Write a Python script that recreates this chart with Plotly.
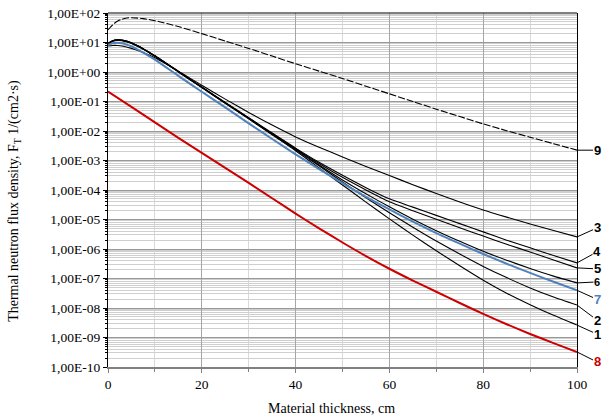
import plotly.graph_objects as go

# Thickness grid (cm) for the transport curves
x_main = [0, 1, 2, 3, 5, 7.5, 10, 15, 20, 25, 30, 35, 40, 45, 50,
          55, 60, 65, 70, 75, 80, 85, 90, 95, 100]
x_red = [0, 5, 10, 15, 20, 25, 30, 35, 40, 45, 50,
         55, 60, 65, 70, 75, 80, 85, 90, 95, 100]
x_dash = [0, 1, 2, 3, 4, 5, 7.5, 10, 15, 20, 25, 30, 35, 40, 45, 50,
          55, 60, 65, 70, 75, 80, 85, 90, 95, 100]

# Flux densities, tabulated as log10(F_T)
lg_1 = [0.95, 1.04, 1.07, 1.06, 0.97, 0.77, 0.53, 0.00, -0.53, -1.06, -1.59, -2.13, -2.67,
        -3.25, -3.83, -4.41, -4.98, -5.53, -6.06, -6.57, -7.06, -7.50, -7.89, -8.25, -8.58]
lg_2 = [0.96, 1.05, 1.08, 1.07, 0.98, 0.78, 0.54, 0.01, -0.52, -1.05, -1.58, -2.11, -2.64,
        -3.18, -3.73, -4.26, -4.77, -5.26, -5.73, -6.17, -6.59, -6.97, -7.32, -7.63, -7.90]
lg_3 = [0.88, 0.90, 0.90, 0.88, 0.80, 0.66, 0.48, 0.03, -0.45, -0.92, -1.37, -1.80, -2.20,
        -2.55, -2.88, -3.20, -3.51, -3.82, -4.12, -4.41, -4.68, -4.92, -5.15, -5.37, -5.59]
lg_4 = [0.97, 1.06, 1.09, 1.08, 0.99, 0.79, 0.55, 0.02, -0.51, -1.03, -1.55, -2.07, -2.58,
        -3.06, -3.50, -3.92, -4.30, -4.58, -4.86, -5.14, -5.42, -5.70, -5.96, -6.22, -6.47]
lg_5 = [0.97, 1.06, 1.09, 1.08, 0.99, 0.79, 0.55, 0.02, -0.51, -1.04, -1.56, -2.08, -2.60,
        -3.10, -3.57, -4.00, -4.40, -4.70, -4.99, -5.28, -5.56, -5.84, -6.10, -6.37, -6.64]
lg_6 = [0.96, 1.05, 1.08, 1.07, 0.98, 0.78, 0.54, 0.01, -0.52, -1.05, -1.57, -2.10, -2.62,
        -3.15, -3.66, -4.13, -4.57, -4.99, -5.38, -5.74, -6.08, -6.38, -6.66, -6.92, -7.15]
lg_7 = [0.92, 0.97, 0.99, 0.97, 0.87, 0.66, 0.42, -0.13, -0.67, -1.20, -1.74, -2.27, -2.79,
        -3.29, -3.77, -4.23, -4.66, -5.07, -5.46, -5.82, -6.17, -6.50, -6.81, -7.11, -7.40]
lg_8 = [-0.66, -1.18, -1.71, -2.23, -2.74, -3.25, -3.76, -4.28, -4.80, -5.30, -5.78,
        -6.24, -6.67, -7.07, -7.45, -7.83, -8.20, -8.55, -8.88, -9.19, -9.49]
lg_9 = [1.43, 1.60, 1.72, 1.79, 1.83, 1.84, 1.81, 1.74, 1.54, 1.30, 1.05, 0.80, 0.54, 0.28,
        0.03, -0.22, -0.48, -0.74, -1.00, -1.26, -1.51, -1.76, -1.99, -2.21, -2.43, -2.65]

y_tick_exp = list(range(-10, 3))
y_tick_text = ["1,00E-10", "1,00E-09", "1,00E-08", "1,00E-07", "1,00E-06", "1,00E-05",
               "1,00E-04", "1,00E-03", "1,00E-02", "1,00E-01", "1,00E+00", "1,00E+01",
               "1,00E+02"]

BLACK = "#000000"
BLUE = "#4f81bd"
RED = "#cc0000"

# (label, x, log10 values, colour, width, dash, label dy in px, label size)
series = [
    ("1", x_main, lg_1, BLACK, 1.1, "solid", 9, 13),
    ("2", x_main, lg_2, BLACK, 1.1, "solid", 15, 13),
    ("3", x_main, lg_3, BLACK, 1.1, "solid", -9, 13),
    ("4", x_main, lg_4, BLACK, 1.1, "solid", -11, 13),
    ("5", x_main, lg_5, BLACK, 1.1, "solid", 1, 13),
    ("6", x_main, lg_6, BLACK, 1.1, "solid", -1, 11),
    ("7", x_main, lg_7, BLUE, 2.0, "solid", 9, 13),
    ("8", x_red, lg_8, RED, 2.0, "solid", 10, 13),
    ("9", x_dash, lg_9, BLACK, 1.1, "7px,2px", 0, 13),
]

fig = go.Figure()
annotations = []
for label, xs, lg, color, width, dash, dy, size in series:
    ys = [10 ** v for v in lg]
    fig.add_trace(go.Scatter(
        x=xs, y=ys, mode="lines", name=label, showlegend=False,
        line=dict(color=color, width=width, dash=dash, shape="spline", smoothing=0.6),
        hoverinfo="skip",
    ))
    annotations.append(dict(
        x=xs[-1], y=lg[-1], xref="x", yref="y", text=f"<b>{label}</b>",
        showarrow=True, arrowhead=0, arrowwidth=1, arrowcolor=BLACK,
        ax=20, ay=dy, standoff=0, borderpad=0,
        font=dict(family="Liberation Sans, Arial, sans-serif", size=size, color=color),
    ))

serif = "Liberation Serif, Times New Roman, serif"

annotations.append(dict(
    x=-0.2, y=0.47, xref="paper", yref="paper", xanchor="center", yanchor="middle",
    textangle=-90, showarrow=False,
    text="Thermal neutron flux density, F<sub>T</sub> 1/(cm2·s)",
    font=dict(family=serif, size=14, color="black"),
))
annotations.append(dict(
    x=0.477, y=-0.116, xref="paper", yref="paper", xanchor="center", yanchor="middle",
    showarrow=False, text="Material thickness, cm",
    font=dict(family=serif, size=14, color="black"),
))

minor_vals = [m * 10 ** e for e in range(-10, 2) for m in range(2, 10)]

fig.update_layout(
    template="none",
    width=603, height=419,
    margin=dict(l=108, r=26, t=13, b=52),
    paper_bgcolor="white", plot_bgcolor="white",
    font=dict(family=serif, size=13.5, color="black"),
    annotations=annotations,
    shapes=[dict(type="line", xref="paper", yref="paper", x0=0, x1=1, y0=1, y1=1,
                 line=dict(color="black", width=1.2))],
    xaxis=dict(
        automargin=False,
        range=[0, 100], tickmode="linear", tick0=0, dtick=20,
        showgrid=True, gridcolor="#a6a6a6", gridwidth=1,
        minor=dict(dtick=10, tick0=0, showgrid=True, gridcolor="#d9d9d9",
                   ticks="outside", ticklen=3, tickcolor="#808080"),
        showline=True, linecolor="#808080", linewidth=2,
        ticks="outside", ticklen=4, tickcolor="#808080",
        tickfont=dict(family=serif, size=13.5, color="black"),
        zeroline=False,
    ),
    yaxis=dict(
        automargin=False,
        type="log", range=[-10, 2],
        tickmode="array", tickvals=[10 ** e for e in y_tick_exp], ticktext=y_tick_text,
        showgrid=True, gridcolor="#999999", gridwidth=1,
        minor=dict(tickmode="array", tickvals=minor_vals, showgrid=True,
                   gridcolor="#cfcfcf", ticks="outside", ticklen=2, tickcolor="black"),
        showline=True, linecolor="black", linewidth=1.3, mirror=True,
        ticks="outside", ticklen=4, tickcolor="black",
        tickfont=dict(family=serif, size=13.5, color="black"),
        zeroline=False,
    ),
)

fig.write_html("out.html")
